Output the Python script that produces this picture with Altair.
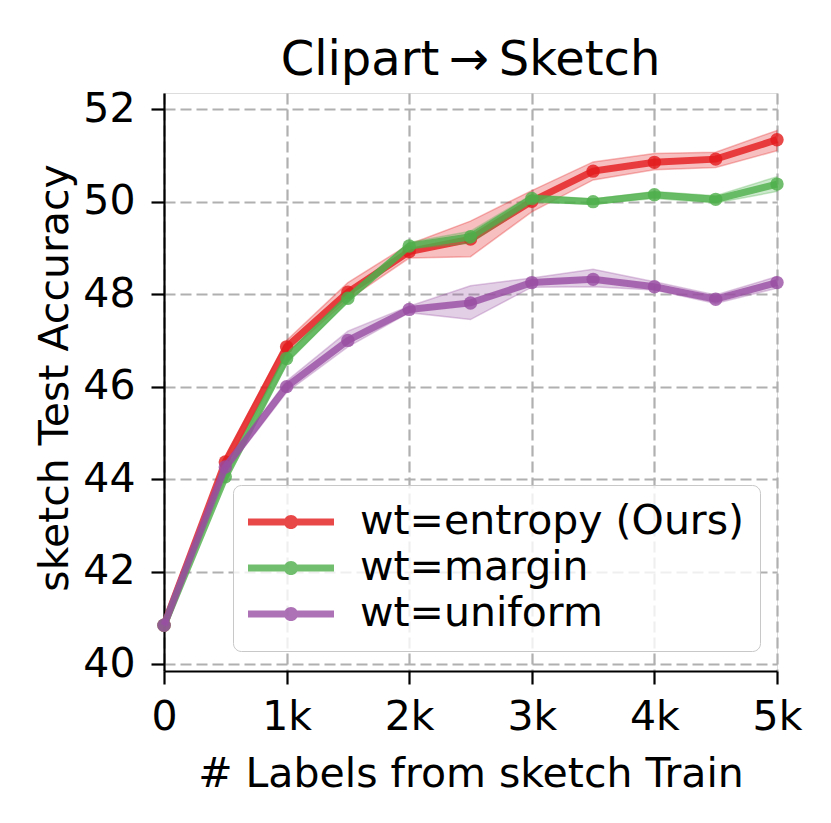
import altair as alt
import pandas as pd

labels = [0, 500, 1000, 1500, 2000, 2500, 3000, 3500, 4000, 4500, 5000]
series_names = ["wt=entropy (Ours)", "wt=margin", "wt=uniform"]
series_colors = ["#e41a1c", "#4daf4a", "#984ea3"]

entropy_mean = [40.84, 44.37, 46.86, 48.04, 48.92, 49.19, 50.01, 50.66, 50.85, 50.92, 51.34]
entropy_low = [40.80, 44.27, 46.72, 47.88, 48.78, 48.81, 49.78, 50.47, 50.69, 50.74, 51.10]
entropy_high = [40.88, 44.47, 47.00, 48.25, 49.08, 49.58, 50.24, 50.86, 51.04, 51.07, 51.54]

margin_mean = [40.84, 44.05, 46.61, 47.91, 49.04, 49.24, 50.07, 50.00, 50.15, 50.05, 50.38]
margin_low = [40.80, 43.97, 46.50, 47.84, 48.98, 49.10, 49.98, 49.95, 50.07, 49.97, 50.22]
margin_high = [40.88, 44.13, 46.72, 48.00, 49.12, 49.36, 50.15, 50.06, 50.22, 50.13, 50.54]

uniform_mean = [40.84, 44.26, 46.00, 47.00, 47.67, 47.81, 48.25, 48.32, 48.16, 47.89, 48.25]
uniform_low = [40.80, 44.15, 45.88, 46.86, 47.60, 47.45, 48.15, 48.16, 48.09, 47.80, 48.13]
uniform_high = [40.88, 44.35, 46.12, 47.20, 47.74, 48.18, 48.35, 48.54, 48.27, 47.98, 48.38]

means = [entropy_mean, margin_mean, uniform_mean]
lows = [entropy_low, margin_low, uniform_low]
highs = [entropy_high, margin_high, uniform_high]

FONT = "DejaVu Sans"

x_scale = alt.Scale(domain=[0, 5000], nice=False, zero=False)
y_scale = alt.Scale(domain=[39.85, 52.35], nice=False, zero=False)

x_axis = alt.Axis(
    values=[0, 1000, 2000, 3000, 4000, 5000],
    labelExpr="datum.value == 0 ? '0' : (datum.value / 1000) + 'k'",
    labelFlush=False, labelOverlap=False,
    tickSize=13, tickWidth=2.2, tickColor="black",
    domainColor="black", domainWidth=2.2,
    labelFontSize=41, labelColor="black", labelFont=FONT, labelPadding=13,
    grid=True, gridColor="#b0b0b0", gridWidth=2.2, gridDash=[11, 5],
    title="# Labels from sketch Train", titleFontSize=41, titleFont=FONT,
    titleFontWeight="normal", titleColor="black",
    titleX=306.5, titleY=115, titleBaseline="alphabetic", titleAlign="center",
)
y_axis = alt.Axis(
    values=[40, 42, 44, 46, 48, 50, 52],
    labelFlush=False, labelOverlap=False,
    tickSize=13, tickWidth=2.2, tickColor="black",
    domainColor="black", domainWidth=2.2,
    labelFontSize=41, labelColor="black", labelFont=FONT, labelPadding=16,
    grid=True, gridColor="#b0b0b0", gridWidth=2.2, gridDash=[11, 5],
    title="sketch Test Accuracy", titleFontSize=41, titleFont=FONT,
    titleFontWeight="normal", titleColor="black",
    titleX=-97, titleY=284.5, titleBaseline="alphabetic", titleAlign="center",
)

legend_symbol = (
    "M-1,-0.082H1V0.082H-1Z "
    "M0.165,0A0.165,0.165 0 1,1 -0.165,0A0.165,0.165 0 1,1 0.165,0Z"
)

legend = alt.Legend(
    title=None, orient="none", legendX=69, legendY=392,
    symbolType=legend_symbol, symbolSize=7396, symbolOpacity=0.8,
    symbolStrokeWidth=0,
    labelFontSize=41, labelFont=FONT, labelColor="black", labelLimit=700,
    labelOffset=26, padding=15, rowPadding=2, clipHeight=44,
    strokeColor="#c8c8c8", fillColor="rgba(255,255,255,0.8)", cornerRadius=8,
)

color_scale = alt.Scale(domain=series_names, range=series_colors)

layers = []
for name, col, m, lo, hi in zip(series_names, series_colors, means, lows, highs):
    df = pd.DataFrame({"labels": labels, "acc": m, "lo": lo, "hi": hi, "series": name})
    base = alt.Chart(df)
    band = base.mark_area(color=col, fillOpacity=0.28, stroke=col, strokeWidth=1.5,
                          strokeOpacity=0.3).encode(
        x=alt.X("labels:Q", scale=x_scale, axis=x_axis),
        y=alt.Y("lo:Q", scale=y_scale, axis=y_axis),
        y2="hi:Q",
    )
    line = base.mark_line(color=col, strokeWidth=7, opacity=0.8).encode(
        x=alt.X("labels:Q", scale=x_scale, axis=x_axis),
        y=alt.Y("acc:Q", scale=y_scale, axis=y_axis),
    )
    pts = base.mark_point(filled=True, size=180, opacity=0.8, strokeWidth=0).encode(
        x=alt.X("labels:Q", scale=x_scale, axis=x_axis),
        y=alt.Y("acc:Q", scale=y_scale, axis=y_axis),
        color=alt.Color("series:N", scale=color_scale, legend=legend),
    )
    layers += [band, line, pts]

chart = alt.layer(*layers).properties(
    width=613, height=578,
    title=alt.Title(
        text="Clipart\u2009\u2192\u2009Sketch", fontSize=48, font=FONT,
        fontWeight="normal", anchor="middle", frame="group", offset=23,
        baseline="alphabetic", color="black", dy=58,
    ),
    padding={"left": 156, "top": 85, "right": 40, "bottom": 130},
    autosize="none",
).configure_view(
    stroke="black", strokeWidth=2.2
).configure(background="white")

chart.save("out.html", embed_options={"renderer": "svg", "actions": False})
